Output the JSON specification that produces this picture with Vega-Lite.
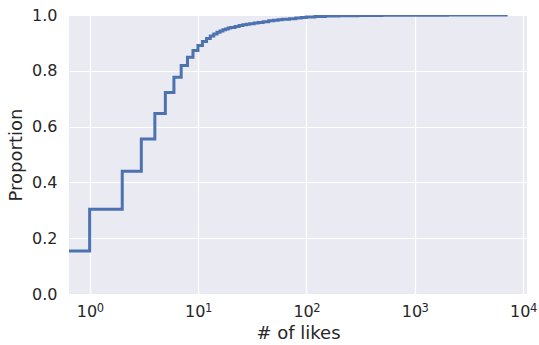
{
  "$schema": "https://vega.github.io/schema/vega-lite/v6.json",
  "width": 458,
  "height": 279,
  "autosize": "none",
  "padding": {"left": 69, "top": 15, "right": 12, "bottom": 51},
  "background": "white",
  "config": {
    "view": {"fill": "#EAEAF2", "stroke": null},
    "font": "DejaVu Sans",
    "axis": {
      "grid": true,
      "gridColor": "white",
      "gridWidth": 1.2,
      "domain": false,
      "ticks": false,
      "labelFont": "DejaVu Sans",
      "labelFontSize": 16,
      "labelColor": "#262626",
      "titleFont": "DejaVu Sans",
      "titleFontSize": 18,
      "titleFontWeight": "normal",
      "titleColor": "#262626"
    }
  },
  "datasets": {
    "ecdf": [
      {"likes": 0.6, "prop": 0.154},
      {"likes": 1, "prop": 0.304},
      {"likes": 2, "prop": 0.44},
      {"likes": 3, "prop": 0.556},
      {"likes": 4, "prop": 0.647},
      {"likes": 5, "prop": 0.722},
      {"likes": 6, "prop": 0.777},
      {"likes": 7, "prop": 0.819},
      {"likes": 8, "prop": 0.849},
      {"likes": 9, "prop": 0.873},
      {"likes": 10, "prop": 0.891},
      {"likes": 11, "prop": 0.905},
      {"likes": 12, "prop": 0.916},
      {"likes": 13, "prop": 0.925},
      {"likes": 14, "prop": 0.932},
      {"likes": 15, "prop": 0.938},
      {"likes": 16, "prop": 0.943},
      {"likes": 17, "prop": 0.947},
      {"likes": 18, "prop": 0.95},
      {"likes": 19, "prop": 0.953},
      {"likes": 20, "prop": 0.955},
      {"likes": 22, "prop": 0.959},
      {"likes": 24, "prop": 0.962},
      {"likes": 26, "prop": 0.965},
      {"likes": 28, "prop": 0.967},
      {"likes": 30, "prop": 0.969},
      {"likes": 33, "prop": 0.971},
      {"likes": 36, "prop": 0.973},
      {"likes": 40, "prop": 0.976},
      {"likes": 45, "prop": 0.979},
      {"likes": 50, "prop": 0.981},
      {"likes": 55, "prop": 0.983},
      {"likes": 60, "prop": 0.985},
      {"likes": 70, "prop": 0.987},
      {"likes": 80, "prop": 0.989},
      {"likes": 90, "prop": 0.991},
      {"likes": 100, "prop": 0.993},
      {"likes": 120, "prop": 0.995},
      {"likes": 150, "prop": 0.996},
      {"likes": 200, "prop": 0.997},
      {"likes": 300, "prop": 0.998},
      {"likes": 500, "prop": 0.999},
      {"likes": 1000, "prop": 0.9995},
      {"likes": 2000, "prop": 0.9998},
      {"likes": 7000, "prop": 1.0}
    ],
    "ticks": [
      {"likes": 1, "exp": "0"},
      {"likes": 10, "exp": "1"},
      {"likes": 100, "exp": "2"},
      {"likes": 1000, "exp": "3"},
      {"likes": 10000, "exp": "4"}
    ]
  },
  "layer": [
    {
      "data": {"name": "ecdf"},
      "mark": {"type": "line", "interpolate": "step-after", "color": "#4C72B0", "strokeWidth": 3, "clip": true},
      "encoding": {
        "x": {
          "field": "likes",
          "type": "quantitative",
          "scale": {"type": "log", "domain": [0.645, 10900], "nice": false},
          "axis": {
            "title": "# of likes",
            "values": [1, 10, 100, 1000, 10000],
            "labelExpr": "'10'",
            "labelAlign": "right",
            "labelOffset": 7,
            "labelPadding": 9,
            "titlePadding": 5
          }
        },
        "y": {
          "field": "prop",
          "type": "quantitative",
          "scale": {"domain": [0, 1], "nice": false},
          "axis": {
            "title": "Proportion",
            "values": [0, 0.2, 0.4, 0.6, 0.8, 1.0],
            "format": ".1f",
            "labelPadding": 12,
            "titlePadding": 6
          }
        }
      }
    },
    {
      "data": {"name": "ticks"},
      "mark": {"type": "text", "align": "left", "baseline": "alphabetic", "dx": 7, "dy": 17.5, "fontSize": 11.5, "font": "DejaVu Sans", "color": "#262626"},
      "encoding": {
        "x": {"field": "likes", "type": "quantitative"},
        "y": {"datum": 0},
        "text": {"field": "exp"}
      }
    }
  ]
}
